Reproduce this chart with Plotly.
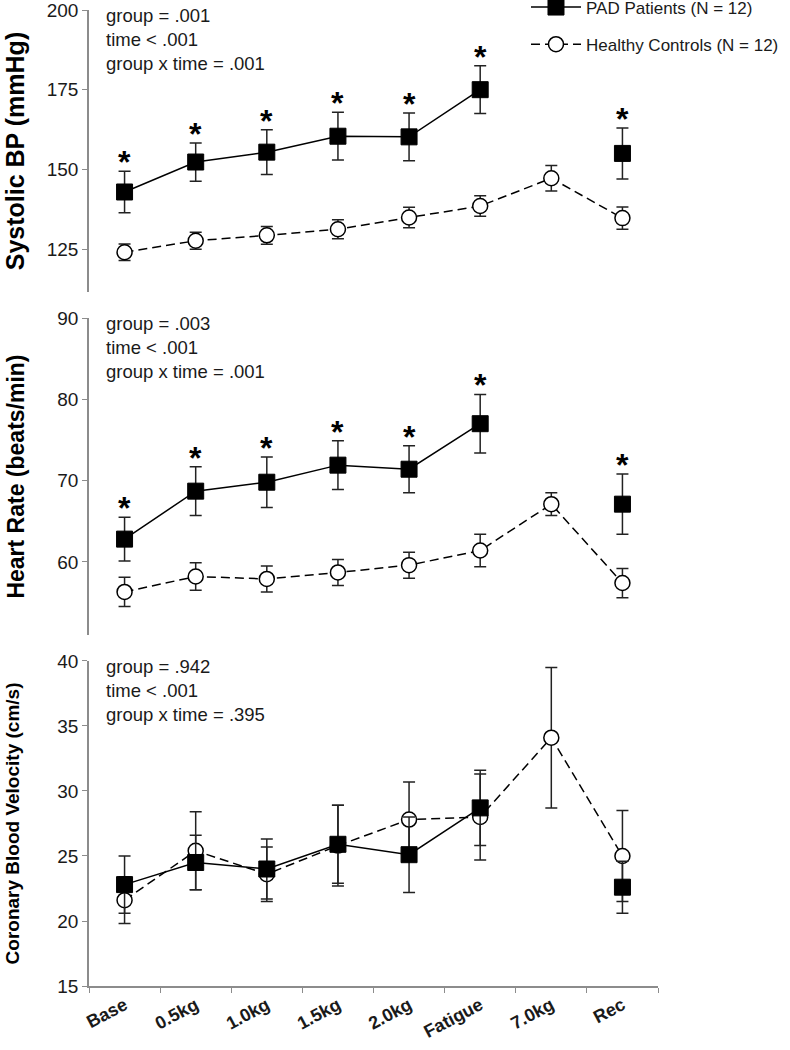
import plotly.graph_objects as go
from plotly.subplots import make_subplots

# Categories (time points)
stages = ["Base", "0.5kg", "1.0kg", "1.5kg", "2.0kg", "Fatigue", "7.0kg", "Rec"]

# Systolic BP (mmHg)
sbp_pad = [142.9, 152.3, 155.4, 160.4, 160.2, 175.0, None, 155.0]
sbp_pad_err = [6.5, 6.0, 7.0, 7.5, 7.5, 7.5, None, 8.0]
sbp_hc = [124.0, 127.6, 129.3, 131.2, 134.9, 138.5, 147.2, 134.7]
sbp_hc_err = [2.6, 2.7, 2.8, 3.0, 3.2, 3.2, 4.0, 3.5]
sbp_sig = [True, True, True, True, True, True, False, True]

# Heart rate (beats/min)
hr_pad = [62.8, 68.7, 69.8, 71.9, 71.4, 77.0, None, 67.1]
hr_pad_err = [2.7, 3.0, 3.1, 3.0, 2.9, 3.6, None, 3.7]
hr_hc = [56.3, 58.2, 57.9, 58.7, 59.6, 61.4, 67.1, 57.4]
hr_hc_err = [1.8, 1.7, 1.6, 1.6, 1.6, 2.0, 1.4, 1.8]
hr_sig = [True, True, True, True, True, True, False, True]

# Coronary blood velocity (cm/s)
cbv_pad = [22.8, 24.5, 24.0, 25.9, 25.1, 28.7, None, 22.6]
cbv_pad_err = [2.2, 2.1, 2.3, 3.0, 2.9, 2.9, None, 2.0]
cbv_hc = [21.6, 25.4, 23.6, 25.8, 27.8, 28.0, 34.1, 25.0]
cbv_hc_err = [1.8, 3.0, 2.1, 3.1, 2.9, 3.3, 5.4, 3.5]

stats = [
    "group = .001<br>time < .001<br>group x time = .001",
    "group = .003<br>time < .001<br>group x time = .001",
    "group = .942<br>time < .001<br>group x time = .395",
]

FONT = "Liberation Sans, Arial, sans-serif"
GRAY = "#8c8c8c"

fig = make_subplots(rows=3, cols=1, shared_xaxes=True, vertical_spacing=0.03)

panels = [
    (sbp_pad, sbp_pad_err, sbp_hc, sbp_hc_err),
    (hr_pad, hr_pad_err, hr_hc, hr_hc_err),
    (cbv_pad, cbv_pad_err, cbv_hc, cbv_hc_err),
]

for i, (pad, pad_err, hc, hc_err) in enumerate(panels, start=1):
    fig.add_trace(go.Scatter(
        x=stages, y=hc, mode="lines+markers", name="Healthy Controls (N = 12)",
        legendgroup="hc", legendrank=2, showlegend=(i == 1),
        line=dict(color="black", width=1.5, dash="9px,5px"),
        marker=dict(symbol="circle", size=15, color="white",
                    line=dict(color="black", width=1.5)),
        error_y=dict(type="data", array=hc_err, color="#222", thickness=1.5, width=6),
        connectgaps=False,
    ), row=i, col=1)
    fig.add_trace(go.Scatter(
        x=stages, y=pad, mode="lines+markers", name="PAD Patients (N = 12)",
        legendgroup="pad", legendrank=1, showlegend=(i == 1),
        line=dict(color="black", width=1.5),
        marker=dict(symbol="square", size=16, color="black",
                    line=dict(color="black", width=1)),
        error_y=dict(type="data", array=pad_err, color="#222", thickness=1.5, width=6),
        connectgaps=False,
    ), row=i, col=1)

# significance asterisks above the PAD error bars
for row, (pad, pad_err, sig) in ((1, (sbp_pad, sbp_pad_err, sbp_sig)),
                                  (2, (hr_pad, hr_pad_err, hr_sig))):
    for s, v, e, flag in zip(stages, pad, pad_err, sig):
        if flag and v is not None:
            fig.add_annotation(x=s, y=v + e, text="<b>*</b>", showarrow=False,
                               yanchor="middle", yshift=9,
                               font=dict(family=FONT, size=32, color="black"),
                               row=row, col=1)

# stats text in each panel
for i, txt in enumerate(stats, start=1):
    xref = "x domain" if i == 1 else f"x{i} domain"
    yref = "y domain" if i == 1 else f"y{i} domain"
    fig.add_annotation(x=0.026, y=1.0, xref=xref, yref=yref, text=txt,
                       showarrow=False, xanchor="left", yanchor="top", align="left",
                       yshift=7, font=dict(family=FONT, size=18.5, color="#1a1a1a"))

# axes
domains = [[0.711, 1.0], [0.3596, 0.6844], [0.0, 0.333]]
ranges = [[111.5, 200], [51, 90], [15, 40]]
dticks = [25, 10, 5]
titles = ["<b>Systolic BP (mmHg)</b>", "<b>Heart Rate (beats/min)</b>",
          "<b>Coronary Blood Velocity (cm/s)</b>"]
tsizes = [25, 23, 19]
standoffs = [15, 26, 33]
for i in range(3):
    fig.update_yaxes(domain=domains[i], range=ranges[i], dtick=dticks[i],
                     tick0=ranges[i][1], showgrid=False, zeroline=False,
                     showline=True, linecolor=GRAY, linewidth=1.5,
                     ticks="outside", ticklen=5, tickcolor=GRAY, automargin=False,
                     ticklabeloverflow="allow",
                     tickfont=dict(family=FONT, size=19, color="#1a1a1a"),
                     title=dict(text=titles[i], standoff=standoffs[i],
                                font=dict(family=FONT, size=tsizes[i], color="black")),
                     row=i + 1, col=1)

for i in range(1, 3):
    fig.update_xaxes(showline=False, ticks="", showticklabels=False, showgrid=False,
                     row=i, col=1)
fig.update_xaxes(type="category", range=[-0.5, 7.5], showgrid=False, zeroline=False,
                 automargin=False)
fig.update_xaxes(showline=True, linecolor=GRAY, linewidth=1.5, ticks="outside",
                 ticklen=5, tickcolor=GRAY, tickson="boundaries", tickangle=-28,
                 tickfont=dict(family=FONT, size=18, color="#1a1a1a"),
                 ticktext=[f"<b>{s}</b>" for s in stages], tickvals=stages,
                 row=3, col=1)

fig.update_layout(
    width=790, height=1050,
    margin=dict(l=89, r=132, t=10, b=64, autoexpand=False),
    plot_bgcolor="white", paper_bgcolor="white",
    font=dict(family=FONT, color="#1a1a1a"),
    showlegend=True,
    legend=dict(x=0.768, y=1.021, xanchor="left", yanchor="top", itemwidth=50,
                font=dict(family=FONT, size=17, color="#1a1a1a"),
                tracegroupgap=12, bgcolor="rgba(0,0,0,0)"),
)

# drop the page's default body margin so the figure sits at the window origin
fig.write_html("out.html", config={"displayModeBar": False},
               post_script="document.body.style.margin='0px';")
